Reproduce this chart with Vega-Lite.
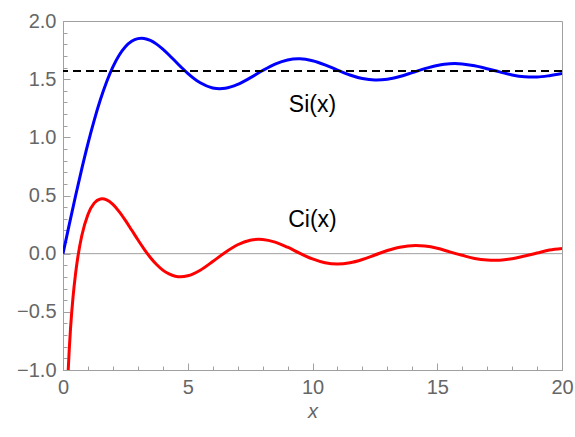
{
  "$schema": "https://vega.github.io/schema/vega-lite/v6.json",
  "width": 499,
  "height": 349,
  "autosize": "none",
  "padding": {"left": 63, "top": 21, "right": 13, "bottom": 67},
  "background": "white",
  "config": {
    "view": {"stroke": "#a0a0a0", "strokeWidth": 1},
    "font": "Liberation Sans",
    "axis": {"labelOverlap": false, "labelFlush": false, "grid": false}
  },
  "datasets": {
    "curves": [
      {"x": 0, "y": 0, "fn": "Si"},
      {"x": 0.25, "y": 0.2491, "fn": "Si"},
      {"x": 0.5, "y": 0.4931, "fn": "Si"},
      {"x": 0.75, "y": 0.727, "fn": "Si"},
      {"x": 1, "y": 0.9461, "fn": "Si"},
      {"x": 1.25, "y": 1.1465, "fn": "Si"},
      {"x": 1.5, "y": 1.3247, "fn": "Si"},
      {"x": 1.75, "y": 1.4782, "fn": "Si"},
      {"x": 2, "y": 1.6054, "fn": "Si"},
      {"x": 2.25, "y": 1.7055, "fn": "Si"},
      {"x": 2.5, "y": 1.7785, "fn": "Si"},
      {"x": 2.75, "y": 1.8255, "fn": "Si"},
      {"x": 3, "y": 1.8487, "fn": "Si"},
      {"x": 3.1416, "y": 1.8519, "fn": "Si"},
      {"x": 3.25, "y": 1.85, "fn": "Si"},
      {"x": 3.5, "y": 1.8331, "fn": "Si"},
      {"x": 3.75, "y": 1.8012, "fn": "Si"},
      {"x": 4, "y": 1.7582, "fn": "Si"},
      {"x": 4.25, "y": 1.7081, "fn": "Si"},
      {"x": 4.5, "y": 1.6542, "fn": "Si"},
      {"x": 4.75, "y": 1.6005, "fn": "Si"},
      {"x": 5, "y": 1.5499, "fn": "Si"},
      {"x": 5.5, "y": 1.4687, "fn": "Si"},
      {"x": 6, "y": 1.4247, "fn": "Si"},
      {"x": 6.2832, "y": 1.4182, "fn": "Si"},
      {"x": 6.5, "y": 1.4216, "fn": "Si"},
      {"x": 7, "y": 1.4546, "fn": "Si"},
      {"x": 7.5, "y": 1.5106, "fn": "Si"},
      {"x": 8, "y": 1.5742, "fn": "Si"},
      {"x": 8.5, "y": 1.6296, "fn": "Si"},
      {"x": 9, "y": 1.665, "fn": "Si"},
      {"x": 9.4248, "y": 1.6747, "fn": "Si"},
      {"x": 9.5, "y": 1.6746, "fn": "Si"},
      {"x": 10, "y": 1.6583, "fn": "Si"},
      {"x": 10.5, "y": 1.623, "fn": "Si"},
      {"x": 11, "y": 1.5782, "fn": "Si"},
      {"x": 11.5, "y": 1.5357, "fn": "Si"},
      {"x": 12, "y": 1.505, "fn": "Si"},
      {"x": 12.5, "y": 1.4923, "fn": "Si"},
      {"x": 12.5664, "y": 1.4922, "fn": "Si"},
      {"x": 13, "y": 1.4992, "fn": "Si"},
      {"x": 13.5, "y": 1.5229, "fn": "Si"},
      {"x": 14, "y": 1.5562, "fn": "Si"},
      {"x": 14.5, "y": 1.5907, "fn": "Si"},
      {"x": 15, "y": 1.6182, "fn": "Si"},
      {"x": 15.5, "y": 1.6331, "fn": "Si"},
      {"x": 15.708, "y": 1.634, "fn": "Si"},
      {"x": 16, "y": 1.6313, "fn": "Si"},
      {"x": 16.5, "y": 1.6151, "fn": "Si"},
      {"x": 17, "y": 1.5901, "fn": "Si"},
      {"x": 17.5, "y": 1.5629, "fn": "Si"},
      {"x": 18, "y": 1.5365, "fn": "Si"},
      {"x": 18.5, "y": 1.5209, "fn": "Si"},
      {"x": 18.8496, "y": 1.518, "fn": "Si"},
      {"x": 19, "y": 1.5185, "fn": "Si"},
      {"x": 19.5, "y": 1.5301, "fn": "Si"},
      {"x": 20, "y": 1.5482, "fn": "Si"},
      {"x": 0.2, "y": -1.0422, "fn": "Ci"},
      {"x": 0.25, "y": -0.8247, "fn": "Ci"},
      {"x": 0.3, "y": -0.6492, "fn": "Ci"},
      {"x": 0.4, "y": -0.3788, "fn": "Ci"},
      {"x": 0.5, "y": -0.1778, "fn": "Ci"},
      {"x": 0.6, "y": -0.0223, "fn": "Ci"},
      {"x": 0.75, "y": 0.1522, "fn": "Ci"},
      {"x": 1, "y": 0.3374, "fn": "Ci"},
      {"x": 1.25, "y": 0.4343, "fn": "Ci"},
      {"x": 1.5, "y": 0.4704, "fn": "Ci"},
      {"x": 1.5708, "y": 0.472, "fn": "Ci"},
      {"x": 1.75, "y": 0.4626, "fn": "Ci"},
      {"x": 2, "y": 0.423, "fn": "Ci"},
      {"x": 2.25, "y": 0.3613, "fn": "Ci"},
      {"x": 2.5, "y": 0.2859, "fn": "Ci"},
      {"x": 2.75, "y": 0.2032, "fn": "Ci"},
      {"x": 3, "y": 0.1196, "fn": "Ci"},
      {"x": 3.25, "y": 0.0398, "fn": "Ci"},
      {"x": 3.5, "y": -0.0328, "fn": "Ci"},
      {"x": 3.75, "y": -0.0931, "fn": "Ci"},
      {"x": 4, "y": -0.141, "fn": "Ci"},
      {"x": 4.25, "y": -0.1745, "fn": "Ci"},
      {"x": 4.5, "y": -0.1936, "fn": "Ci"},
      {"x": 4.7124, "y": -0.1985, "fn": "Ci"},
      {"x": 5, "y": -0.19, "fn": "Ci"},
      {"x": 5.5, "y": -0.1422, "fn": "Ci"},
      {"x": 6, "y": -0.0681, "fn": "Ci"},
      {"x": 6.5, "y": 0.011, "fn": "Ci"},
      {"x": 7, "y": 0.0767, "fn": "Ci"},
      {"x": 7.5, "y": 0.1157, "fn": "Ci"},
      {"x": 7.854, "y": 0.1236, "fn": "Ci"},
      {"x": 8, "y": 0.1224, "fn": "Ci"},
      {"x": 8.5, "y": 0.0996, "fn": "Ci"},
      {"x": 9, "y": 0.0553, "fn": "Ci"},
      {"x": 9.5, "y": 0.0027, "fn": "Ci"},
      {"x": 10, "y": -0.0455, "fn": "Ci"},
      {"x": 10.5, "y": -0.0783, "fn": "Ci"},
      {"x": 10.9956, "y": -0.0896, "fn": "Ci"},
      {"x": 11.5, "y": -0.0786, "fn": "Ci"},
      {"x": 12, "y": -0.0498, "fn": "Ci"},
      {"x": 12.5, "y": -0.0114, "fn": "Ci"},
      {"x": 13, "y": 0.0268, "fn": "Ci"},
      {"x": 13.5, "y": 0.0558, "fn": "Ci"},
      {"x": 14.1372, "y": 0.0701, "fn": "Ci"},
      {"x": 14.5, "y": 0.0655, "fn": "Ci"},
      {"x": 15, "y": 0.0463, "fn": "Ci"},
      {"x": 15.5, "y": 0.0152, "fn": "Ci"},
      {"x": 16, "y": -0.0142, "fn": "Ci"},
      {"x": 16.5, "y": -0.0408, "fn": "Ci"},
      {"x": 17, "y": -0.0552, "fn": "Ci"},
      {"x": 17.2788, "y": -0.0575, "fn": "Ci"},
      {"x": 17.5, "y": -0.0563, "fn": "Ci"},
      {"x": 18, "y": -0.0435, "fn": "Ci"},
      {"x": 18.5, "y": -0.0202, "fn": "Ci"},
      {"x": 19, "y": 0.0052, "fn": "Ci"},
      {"x": 19.5, "y": 0.0309, "fn": "Ci"},
      {"x": 20, "y": 0.0444, "fn": "Ci"}
    ],
    "refs": [
      {"level": 0, "kind": "axis"},
      {"level": 1.5708, "kind": "limit"}
    ],
    "labels": [
      {"x": 10, "y": 1.28, "text": "Si(x)"},
      {"x": 10, "y": 0.29, "text": "Ci(x)"}
    ]
  },
  "resolve": {"axis": {"x": "independent", "y": "independent"}},
  "layer": [
    {
      "data": {"name": "refs"},
      "transform": [{"filter": "datum.kind === 'axis'"}],
      "mark": {"type": "rule", "color": "#a0a0a0", "strokeWidth": 1},
      "encoding": {
        "x": {"datum": 0, "type": "quantitative",
          "axis": {
            "orient": "bottom",
            "values": [1,2,3,4,6,7,8,9,11,12,13,14,16,17,18,19],
            "labels": false, "domain": false, "tickSize": -4, "tickColor": "#a0a0a0", "title": null
          }
        },
        "x2": {"datum": 20},
        "y": {"field": "level", "type": "quantitative",
          "axis": {
            "orient": "left",
            "values": [-0.9,-0.8,-0.7,-0.6,-0.4,-0.3,-0.2,-0.1,0.1,0.2,0.3,0.4,0.6,0.7,0.8,0.9,1.1,1.2,1.3,1.4,1.6,1.7,1.8,1.9],
            "labels": false, "domain": false, "tickSize": -4, "tickColor": "#a0a0a0", "title": null
          }
        }
      }
    },
    {
      "data": {"name": "curves"},
      "mark": {"type": "line", "strokeWidth": 3, "interpolate": "monotone", "clip": true},
      "encoding": {
        "x": {
          "field": "x", "type": "quantitative",
          "scale": {"domain": [0, 20], "nice": false, "zero": false},
          "axis": {
            "orient": "bottom",
            "values": [0, 5, 10, 15, 20],
            "tickSize": -7,
            "labelPadding": 14,
            "labelFontSize": 20,
            "labelColor": "#666666",
            "labelFont": "Liberation Sans",
            "domainColor": "#a0a0a0",
            "tickColor": "#a0a0a0",
            "title": "x",
            "titleFont": "Liberation Sans",
            "titleFontSize": 20,
            "titleFontStyle": "italic",
            "titleFontWeight": "normal",
            "titleColor": "#666666",
            "titlePadding": 4
          }
        },
        "y": {
          "field": "y", "type": "quantitative",
          "scale": {"domain": [-1, 2], "nice": false, "zero": false},
          "axis": {
            "orient": "left",
            "values": [-1, -0.5, 0, 0.5, 1, 1.5, 2],
            "format": ".1f",
            "tickSize": -7,
            "labelPadding": 14,
            "labelFontSize": 20,
            "labelColor": "#666666",
            "labelFont": "Liberation Sans",
            "domainColor": "#a0a0a0",
            "tickColor": "#a0a0a0",
            "title": null
          }
        },
        "color": {
          "field": "fn", "type": "nominal",
          "scale": {"domain": ["Si", "Ci"], "range": ["#0000ff", "#ff0000"]},
          "legend": null
        },
        "detail": {"field": "fn"}
      }
    },
    {
      "data": {"name": "refs"},
      "transform": [{"filter": "datum.kind === 'limit'"}],
      "mark": {"type": "rule", "color": "#000000", "strokeWidth": 2, "strokeDash": [8, 5]},
      "encoding": {
        "y": {"field": "level", "type": "quantitative", "axis": null}
      }
    },
    {
      "data": {"name": "labels"},
      "mark": {"type": "text", "fontSize": 23, "font": "Liberation Sans", "color": "#000000", "align": "center", "baseline": "middle"},
      "encoding": {
        "x": {"field": "x", "type": "quantitative", "axis": null},
        "y": {"field": "y", "type": "quantitative", "axis": null},
        "text": {"field": "text"}
      }
    }
  ]
}
